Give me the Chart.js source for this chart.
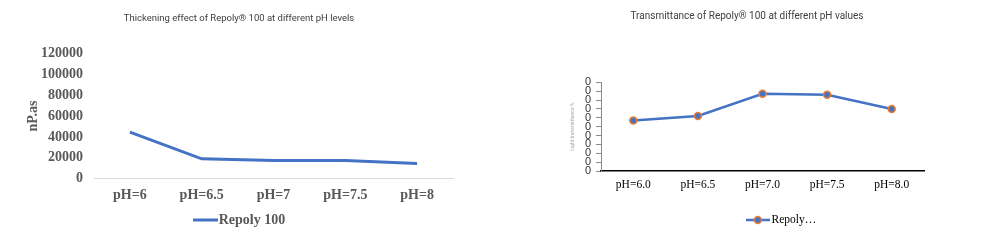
<!DOCTYPE html>
<html><head><meta charset="utf-8">
<script src="https://cdn.jsdelivr.net/npm/chart.js@4"></script>
<style>
html,body{margin:0;padding:0;background:#fff;width:998px;height:241px;overflow:hidden}
.box{position:absolute;top:0;height:241px}
</style></head><body>
<div class="box" style="left:0;width:500px"><canvas id="c1" width="500" height="241"></canvas></div>
<div class="box" style="left:500px;width:498px"><canvas id="c2" width="498" height="241"></canvas></div>
<script>
// ---- Data ----
const viscTitle = 'Thickening effect of Repoly® 100 at different pH levels';
const viscCategories = ['pH=6', 'pH=6.5', 'pH=7', 'pH=7.5', 'pH=8'];
const viscValues = [44500, 19000, 17500, 17500, 14500];
const viscSeries = 'Repoly 100';
const viscAxisTitle = 'nP.as';
const viscTickMax = 120000;
const viscTickStep = 20000;

const transTitle = 'Transmittance of Repoly® 100 at different pH values';
const transCategories = ['pH=6.0', 'pH=6.5', 'pH=7.0', 'pH=7.5', 'pH=8.0'];
const transValues = [57, 62, 87, 86, 70];
const transSeries = 'Repoly…';
const transAxisTitle = 'Light transmittance %';
const transTickMax = 100;
const transTickStep = 10;

// ---- Styling helpers ----
const BLUE = '#4472C4', ORANGE = '#ED7D31';
function legendLineImg(w, h, lw, color, marker) {
  const c = document.createElement('canvas'); c.width = w; c.height = h;
  const g = c.getContext('2d');
  g.strokeStyle = color; g.lineWidth = lw;
  g.beginPath(); g.moveTo(0, h / 2); g.lineTo(w, h / 2); g.stroke();
  if (marker) {
    g.beginPath(); g.arc(w / 2, h / 2, marker.r, 0, Math.PI * 2);
    g.fillStyle = marker.fill; g.fill();
    g.lineWidth = marker.bw; g.strokeStyle = marker.stroke; g.stroke();
  }
  return c;
}
const legendShift = {
  id: 'legendShift',
  afterLayout(chart, args, opts) {
    const l = chart.legend; if (!l) return;
    l.left += opts.dx || 0; l.right += opts.dx || 0;
  }
};
const SERIF = 'Liberation Serif';

// ---- Chart 1 ----
new Chart(document.getElementById('c1'), {
  type: 'line',
  data: {
    labels: viscCategories,
    datasets: [{ label: viscSeries, data: viscValues, borderColor: BLUE, backgroundColor: BLUE,
      borderWidth: 3, pointRadius: 0, tension: 0 }]
  },
  plugins: [legendShift],
  options: {
    responsive: false, animation: false,
    layout: { padding: { left: 25, right: 47, top: 0, bottom: 4 } },
    plugins: {
      legendShift: { dx: 3 },
      title: { display: true, text: viscTitle, color: '#404040',
        font: { family: 'Roboto', size: 9.5, weight: 'normal' }, padding: { top: 13, bottom: 28.9 } },
      legend: { position: 'bottom',
        labels: { usePointStyle: true, pointStyle: legendLineImg(25, 4, 3, BLUE), pointStyleWidth: 13,
          color: '#595959', font: { family: SERIF, size: 14, weight: 'bold' }, padding: 10 } },
      tooltip: { enabled: false }
    },
    scales: {
      x: { offset: true,
        grid: { display: false, drawTicks: false },
        border: { display: true, color: '#d9d9d9', width: 1 },
        ticks: { color: '#595959', font: { family: SERIF, size: 14, weight: 'bold' }, padding: 8, maxRotation: 0 },
        afterFit(s) { s.height = 24.3; } },
      y: { min: 0, max: viscTickMax,
        grid: { display: false, drawTicks: false },
        border: { display: false },
        ticks: { stepSize: viscTickStep, color: '#595959', font: { family: SERIF, size: 14, weight: 'bold' },
          padding: 11, callback: v => String(v) },
        title: { display: true, text: viscAxisTitle, color: '#595959',
          font: { family: SERIF, size: 14, weight: 'bold' }, padding: 0 },
        afterFit(s) { s.width = 69; } }
    }
  }
});

// ---- Chart 2 ----
new Chart(document.getElementById('c2'), {
  type: 'line',
  data: {
    labels: transCategories,
    datasets: [{ label: transSeries, data: transValues, borderColor: BLUE, backgroundColor: BLUE,
      borderWidth: 2.5, pointRadius: 3.5, pointBackgroundColor: BLUE, pointBorderColor: ORANGE,
      pointBorderWidth: 1.5, tension: 0 }]
  },
  plugins: [legendShift],
  options: {
    responsive: false, animation: false,
    layout: { padding: { left: 70, right: 74, top: 0, bottom: 5.25 } },
    plugins: {
      legendShift: { dx: 36 },
      title: { display: true, text: transTitle, color: '#404040',
        font: { family: 'Roboto', size: 10, weight: 'normal' }, padding: { top: 10.5, bottom: 59.8 } },
      legend: { position: 'bottom',
        labels: { usePointStyle: true,
          pointStyle: legendLineImg(24, 10, 2.5, BLUE, { r: 3.5, fill: BLUE, stroke: ORANGE, bw: 1.5 }),
          pointStyleWidth: 16, color: '#000', font: { family: SERIF, size: 11.5 }, padding: 10 } },
      tooltip: { enabled: false }
    },
    scales: {
      x: { offset: true,
        grid: { display: false, drawTicks: false },
        border: { display: true, color: '#000', width: 1.5 },
        ticks: { color: '#000', font: { family: SERIF, size: 11.5 }, padding: 7.5, maxRotation: 0 },
        afterFit(s) { s.height = 33.25; } },
      y: { min: 0, max: transTickMax,
        grid: { display: true, drawOnChartArea: false, drawTicks: true, tickLength: 5, color: '#8c8c8c' },
        border: { display: true, color: '#8c8c8c', width: 1 },
        ticks: { stepSize: transTickStep, autoSkip: false, color: '#333', font: { family: 'Liberation Sans', size: 11 },
          padding: 5, callback: v => String(v).slice(-1) },
        title: { display: true, text: transAxisTitle, color: '#a6a6a6',
          font: { family: 'Roboto', size: 5 }, padding: 0 },
        afterFit(s) { s.width = 31; } }
    }
  }
});
</script>
</body></html>
